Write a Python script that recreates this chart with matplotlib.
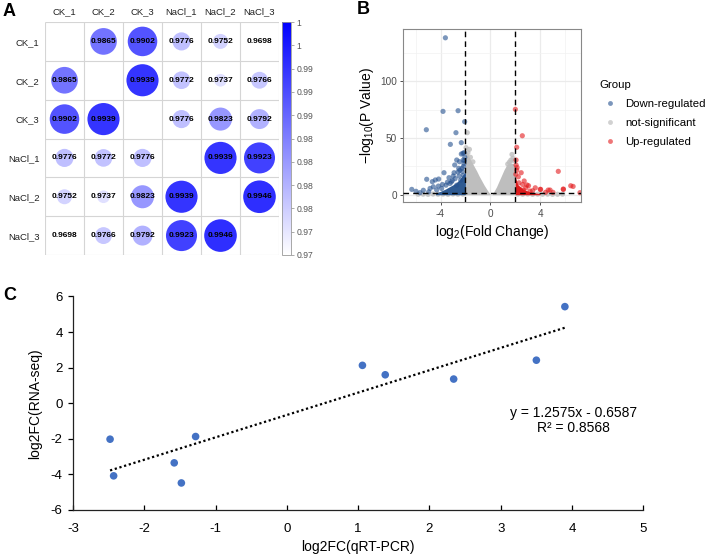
import numpy as np
import matplotlib.pyplot as plt
from matplotlib.colors import LinearSegmentedColormap, Normalize
from matplotlib.cm import ScalarMappable
from matplotlib.lines import Line2D

plt.rcParams['font.family'] = ['Liberation Sans', 'DejaVu Sans']
plt.rcParams['mathtext.fontset'] = 'custom'
plt.rcParams['mathtext.rm'] = 'Liberation Sans'
plt.rcParams['mathtext.it'] = 'Liberation Sans:italic'
plt.rcParams['mathtext.bf'] = 'Liberation Sans:bold'
plt.rcParams['axes.unicode_minus'] = False

# ---- panel A data: sample correlation ----
samples = ['CK_1', 'CK_2', 'CK_3', 'NaCl_1', 'NaCl_2', 'NaCl_3']
corr = [
    [1.0, 0.9865, 0.9902, 0.9776, 0.9752, 0.9698],
    [0.9865, 1.0, 0.9939, 0.9772, 0.9737, 0.9766],
    [0.9902, 0.9939, 1.0, 0.9776, 0.9823, 0.9792],
    [0.9776, 0.9772, 0.9776, 1.0, 0.9939, 0.9923],
    [0.9752, 0.9737, 0.9823, 0.9939, 1.0, 0.9946],
    [0.9698, 0.9766, 0.9792, 0.9923, 0.9946, 1.0],
]
cbar_ticks = [0.97, 0.973, 0.976, 0.979, 0.982, 0.985, 0.988, 0.991, 0.994, 0.997, 1.0]
cbar_labels = ['0.97', '0.97', '0.98', '0.98', '0.98', '0.98', '0.99', '0.99', '0.99', '1', '1']

# ---- panel B data: volcano ----
fc_cut = 2
p_cut = 1.3
down_x = [-3.61, -3.80, -2.59, -5.14, -2.76, -2.06, -3.21, -2.33, -2.20, -2.33, -2.10,
          -6.31, -5.65, -5.11, -4.66, -4.42, -4.15, -3.72, -2.91, -2.70, -2.48, -2.86,
          -2.54, -2.27, -2.17, -2.98, -3.32, -2.17, -2.51, -4.58, -4.84, -4.17, -3.91,
          -3.56, -3.24, -5.38, -5.97, -4.31, -3.13, -2.83, -2.38, -2.70, -2.05, -2.12,
          -2.25, -2.60, -3.05, -3.45, -3.85, -4.95, -2.15, -2.45, -2.08]
down_y = [138.4, 73.5, 74.1, 57.3, 54.7, 64.4, 44.4, 45.9, 36.5, 35.9, 37.1,
          4.7, 1.8, 13.6, 11.5, 13.0, 13.8, 19.4, 19.4, 30.6, 29.1, 26.2,
          23.3, 23.3, 30.6, 16.5, 15.0, 17.1, 16.5, 7.0, 5.5, 7.6, 5.5,
          8.4, 9.9, 3.9, 3.0, 4.2, 11.3, 14.2, 12.8, 8.4, 33.0, 27.5,
          20.5, 20.0, 12.5, 11.0, 9.0, 2.5, 25.0, 21.5, 30.0]
up_x = [2.01, 2.57, 2.12, 5.46, 2.48, 2.72, 3.07, 2.94, 2.07, 2.07, 2.12, 2.25, 3.61,
        4.04, 4.65, 5.86, 4.44, 5.03, 6.46, 6.65, 7.20, 4.01, 4.80, 5.87, 3.19, 2.66,
        2.39, 2.05, 2.30, 2.85, 3.40, 2.15, 2.60]
up_y = [75.3, 52.0, 41.8, 20.6, 19.4, 12.1, 7.9, 8.6, 30.6, 26.2, 21.7, 15.8, 6.1,
        4.7, 4.1, 5.0, 2.1, 2.1, 7.9, 7.3, 1.8, 4.7, 4.1, 4.7, 3.2, 4.1,
        4.7, 18.0, 10.5, 6.0, 3.5, 24.0, 9.0]
ns_x = [-1.85, -1.68, -1.95, -1.80, -1.60, -1.40, 1.74, 1.53, 1.82, 1.65, 1.40, 1.90,
        -5.80, -5.40, -5.00, -4.60, -4.20, -3.80, -3.40, -3.00, -2.60, -2.20,
        2.20, 2.60, 3.00, 3.40, 3.80, 4.20, 4.60, 5.00, 5.40, 5.80]
ns_y = [54.7, 40.0, 41.5, 37.0, 33.0, 29.0, 35.5, 28.7, 32.0, 30.5, 27.0, 30.0,
        0.4, 0.5, 0.3, 0.6, 0.4, 0.5, 0.3, 0.6, 0.4, 0.5,
        0.5, 0.4, 0.6, 0.3, 0.5, 0.4, 0.5, 0.3, 0.4, 0.5]
# outline of the densely packed cloud of points
ns_left_x = [-2.0, -1.95, -1.85, -1.7, -1.5, -1.3, -1.1, -0.9, -0.7, -0.5, -0.3, -0.15, 0.0]
ns_left_y = [36, 38, 38, 33, 29, 25, 21, 16.5, 12.5, 8.5, 5, 2.5, 0.5]
ns_right_x = [0.15, 0.3, 0.5, 0.7, 0.9, 1.1, 1.3, 1.5, 1.7, 1.9, 2.0]
ns_right_y = [0.5, 3, 7, 12, 17, 22, 26, 28, 28, 27, 25]
down_core_x = [-4.4, -4.0, -3.6, -3.2, -2.8, -2.5, -2.25, -2.0]
down_core_y = [1.5, 3, 5, 7.5, 10, 13, 17, 20]
up_core_x = [2.0, 2.2, 2.5, 2.8, 3.2, 3.6, 4.0]
up_core_y = [16, 9, 6, 4, 2.5, 1.5, 1]

# ---- panel C data: qRT-PCR vs RNA-seq ----
qpcr = [-2.48, -2.43, -1.58, -1.48, -1.28, 1.06, 1.38, 2.34, 3.50, 3.90]
rnaseq = [-2.02, -4.08, -3.35, -4.48, -1.87, 2.13, 1.60, 1.36, 2.42, 5.43]
slope = 1.2575
intercept = -0.6587
r2 = 0.8568

fig = plt.figure(figsize=(7.09, 5.57), dpi=100)
W, H = 709, 557

# ================= A =================
axA = fig.add_axes([45 / W, 1 - 255 / H, 234 / W, 233 / H])
cmap = LinearSegmentedColormap.from_list('wb', ['#FFFFFF', '#0000FF'])
norm = Normalize(0.97, 1.0)
n = len(samples)
for i in range(n):
    for j in range(n):
        if i == j:
            continue
        v = corr[i][j]
        frac = max((v - 0.97) / 0.03, 0)
        d_pt = 36 * np.sqrt(frac) * 0.72
        axA.scatter(j + 0.5, i + 0.5, s=d_pt ** 2, color=cmap(norm(v)),
                    edgecolors='none', zorder=2)
        axA.text(j + 0.5, i + 0.5, f'{v:.4f}', ha='center', va='center',
                 fontsize=6, fontweight='bold', color='black', zorder=3)
axA.vlines(range(n + 1), 0, n, color='#D5D5D5', lw=0.8, zorder=1)
axA.hlines(range(n + 1), 0, n, color='#D5D5D5', lw=0.8, zorder=1)
axA.set_xlim(0, n)
axA.set_ylim(n, 0)
axA.set_xticks(np.arange(n) + 0.5)
axA.set_xticklabels(samples)
axA.set_yticks(np.arange(n) + 0.5)
axA.set_yticklabels(samples)
axA.xaxis.tick_top()
axA.tick_params(length=0, labelsize=6.8, pad=4, labelcolor='#222222')
for s in axA.spines.values():
    s.set_visible(False)

cax = fig.add_axes([282 / W, 1 - 255 / H, 9 / W, 233 / H])
cb = fig.colorbar(ScalarMappable(norm=norm, cmap=cmap), cax=cax)
cb.set_ticks(cbar_ticks)
cb.set_ticklabels(cbar_labels)
cb.ax.tick_params(labelsize=6.2, length=2, width=0.5, color='#888888',
                  labelcolor='#555555', pad=2)
cb.outline.set_edgecolor('#999999')
cb.outline.set_linewidth(0.6)

# ================= B =================
axB = fig.add_axes([403.3 / W, 1 - 202.3 / H, 177.4 / W, 173 / H])
grey = '#BEBEBE'
blue = '#24508F'
red = '#E31A1C'
axB.fill_between(ns_left_x, 0, ns_left_y, color=grey, lw=0, zorder=2)
axB.fill_between(ns_right_x, 0, ns_right_y, color=grey, lw=0, zorder=2)
axB.scatter(ns_x, ns_y, s=14, color=grey, alpha=0.8, edgecolors='none', zorder=2)
axB.fill_between(down_core_x, 0, down_core_y, color='#2E5A92', lw=0, zorder=3)
axB.fill_between(up_core_x, 0, up_core_y, color='#DA1E1E', lw=0, zorder=3)
axB.scatter(down_x, down_y, s=14, color=blue, alpha=0.6, edgecolors='none', zorder=3)
axB.scatter(up_x, up_y, s=14, color=red, alpha=0.6, edgecolors='none', zorder=3)
axB.axvline(-fc_cut, color='black', ls=(0, (4, 3)), lw=1, zorder=4)
axB.axvline(fc_cut, color='black', ls=(0, (4, 3)), lw=1, zorder=4)
axB.axhline(p_cut, color='black', ls=(0, (4, 3)), lw=1, zorder=4)
axB.set_xlim(-6.99, 7.26)
axB.set_ylim(-6.7, 145.9)
axB.set_xticks([-4, 0, 4])
axB.set_yticks([0, 50, 100])
axB.set_xticks([-6, -2, 2, 6], minor=True)
axB.set_yticks([25, 75, 125], minor=True)
axB.grid(which='major', color='#EBEBEB', lw=0.9)
axB.grid(which='minor', color='#F2F2F2', lw=0.5)
axB.set_axisbelow(True)
axB.tick_params(which='major', labelsize=7.2, labelcolor='#4D4D4D', color='#333333',
                length=2.5, width=0.6, pad=2)
axB.tick_params(which='minor', length=0)
for s in axB.spines.values():
    s.set_edgecolor('#888888')
    s.set_linewidth(0.8)
axB.set_xlabel(r'$\mathrm{log_{2}(Fold\ Change)}$', fontsize=10, labelpad=3)
axB.set_ylabel(r'$\mathrm{-log_{10}(P\ Value)}$', fontsize=10, labelpad=3)

handles = [Line2D([], [], marker='o', ls='', color=c, alpha=a, markersize=3.5,
                  markeredgewidth=0)
           for c, a in [(blue, 0.6), (grey, 0.7), (red, 0.6)]]
axB.legend(handles, ['Down-regulated', 'not-significant', 'Up-regulated'],
           title='Group', loc='upper left', bbox_to_anchor=(594 / W, 1 - 74 / H),
           bbox_transform=fig.transFigure, frameon=False, fontsize=8.2,
           title_fontsize=8.2, handletextpad=0.45, labelspacing=0.8,
           alignment='left', borderpad=0, handlelength=1.8)

# ================= C =================
axC = fig.add_axes([73 / W, 1 - 510 / H, 570.3 / W, 213.5 / H])
axC.scatter(qpcr, rnaseq, s=30, color='#4472C4', edgecolors='none', zorder=3)
tx = np.array([min(qpcr), max(qpcr)])
axC.plot(tx, slope * tx + intercept, color='black', ls=(0, (1, 1.2)), lw=1.6, zorder=2)
axC.set_xlim(-3, 5)
axC.set_ylim(-6, 6)
axC.set_xticks(range(-3, 6))
axC.set_yticks(range(-6, 7, 2))
axC.spines['top'].set_visible(False)
axC.spines['right'].set_visible(False)
for s in ['left', 'bottom']:
    axC.spines[s].set_color('#222222')
    axC.spines[s].set_linewidth(0.9)
axC.tick_params(axis='x', direction='in', length=3.5, width=0.9, labelsize=9.5, pad=9)
axC.tick_params(axis='y', direction='out', length=3.5, width=0.9, labelsize=9.5, pad=4)
axC.set_xlabel('log2FC(qRT-PCR)', fontsize=10, labelpad=4)
axC.set_ylabel('log2FC(RNA-seq)', fontsize=10, labelpad=6)
axC.text(4.02, -0.95, f'y = {slope}x - {abs(intercept)}\nR² = {r2}', ha='center',
         va='center', fontsize=10, linespacing=1.1)

# panel letters
fig.text(3 / W, 1 - 11 / H, 'A', fontsize=13, fontweight='bold', va='center')
fig.text(357 / W, 1 - 10 / H, 'B', fontsize=13, fontweight='bold', va='center')
fig.text(3 / W, 1 - 296 / H, 'C', fontsize=13, fontweight='bold', va='center')

fig.savefig('out.png', dpi=100)
